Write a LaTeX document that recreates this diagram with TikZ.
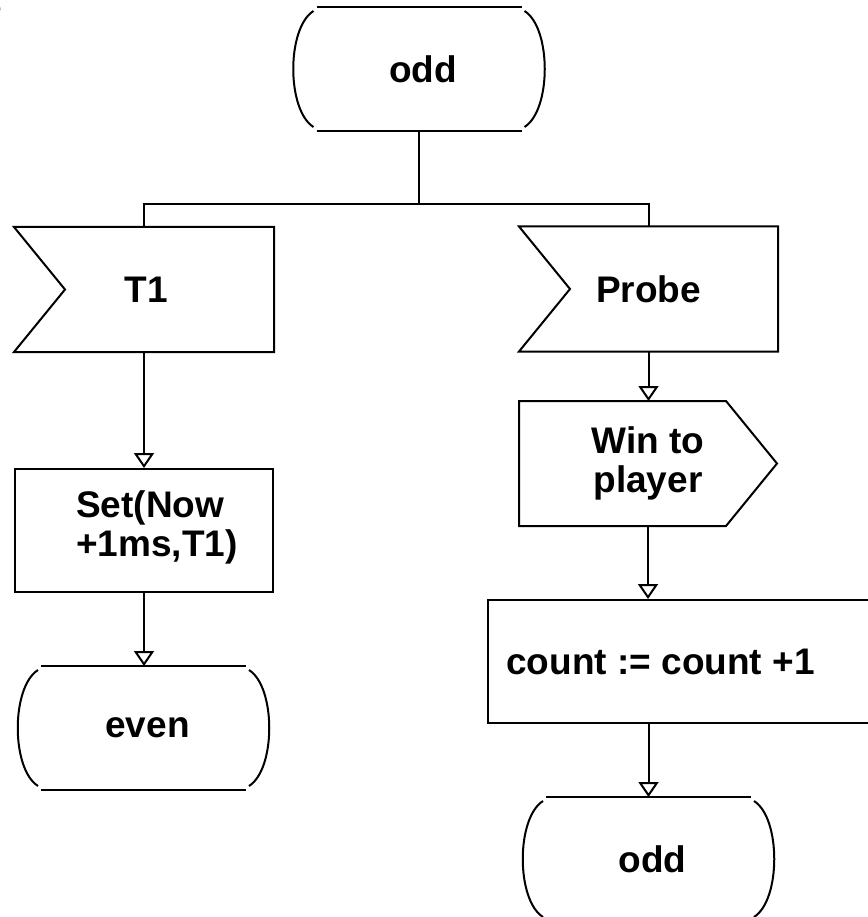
\documentclass[tikz,border=0pt]{standalone}
\usepackage{fontspec}
\setmainfont{Liberation Sans}
\usetikzlibrary{arrows.meta,calc}

% State symbol: flat top and bottom, bowed sides
\newcommand{\termoutline}[1]{%
  \draw (#1.north west) -- (#1.north east);
  \draw (#1.south west) -- (#1.south east);
  \draw ([shift={(-3,-4)}]#1.north west) .. controls +(-27,-17) and +(-27,17) .. ([shift={(-3,4)}]#1.south west);
  \draw ([shift={(3,-4)}]#1.north east) .. controls +(27,-17) and +(27,17) .. ([shift={(3,4)}]#1.south east);
}
% Input signal: notched on the left
\newcommand{\inoutline}[1]{%
  \draw (#1.north west) -- (#1.north east) -- (#1.south east) -- (#1.south west)
        -- ([xshift=51]#1.west) -- cycle;
}
% Output signal: pointed on the right
\newcommand{\outoutline}[1]{%
  \draw (#1.north west) -- ([xshift=-51]#1.north east) -- (#1.east)
        -- ([xshift=-51]#1.south east) -- (#1.south west) -- cycle;
}

\tikzset{
  lbl/.style={font=\fontsize{37}{39}\selectfont\bfseries, align=center, inner sep=0pt},
  termbox/.style={lbl, minimum width=203pt, minimum height=122pt},
  sigbox/.style={lbl, minimum width=257pt, minimum height=123pt},
  taskbox/.style={draw, inner sep=0pt},
  flow/.style={-{Triangle[open,width=20pt,length=15pt]}}
}

\begin{document}
\begin{tikzpicture}[x=1pt, y=1pt, line width=2pt]
  \useasboundingbox (0,0) rectangle (867,-917);

  \node[lbl, anchor=east] (frag) at (3,-10) {e};

  % start state
  \node[termbox] (start) at (419,-69) {\hspace*{8pt}odd};
  \termoutline{start}

  % inputs
  \node[sigbox, minimum width=258pt] (t1) at (144,-289.5) {\hspace*{4pt}T1};
  \inoutline{t1}
  \node[sigbox] (probe) at (648.5,-289) {Probe};
  \inoutline{probe}

  % left branch
  \node[taskbox, minimum width=258pt, minimum height=123pt] (setbox) at (144,-530.5) {};
  \node[lbl, align=left] (settext) at (157,-527) {Set(Now\\ +1ms,T1)};
  \node[termbox] (even) at (143.5,-728) {\hspace*{8pt}even};
  \termoutline{even}

  % right branch
  \node[sigbox, minimum width=256pt] (win) at (648,-463.5) {Win to\\player};
  \outoutline{win}
  \node[taskbox, minimum width=400pt, minimum height=123pt] (countbox) at (688,-661.5) {};
  \node[lbl] (counttext) at (660.5,-662) {count := count +1};
  \node[termbox] (odd2) at (648.5,-859) {\hspace*{8pt}odd};
  \termoutline{odd2}

  % connectors
  \coordinate (split) at ($(start.south)+(0,-73)$);
  \draw (start.south) -- (split);
  \draw (t1.north) |- (split) -| (probe.north);
  \draw[flow] (t1.south) -- (setbox.north);
  \draw[flow] (setbox.south) -- (setbox.south |- even.north);
  \draw[flow] (probe.south) -- (probe.south |- win.north);
  \draw[flow] (win.south) -- (win.south |- countbox.north);
  \draw[flow] (odd2.north |- countbox.south) -- (odd2.north);
\end{tikzpicture}
\end{document}
